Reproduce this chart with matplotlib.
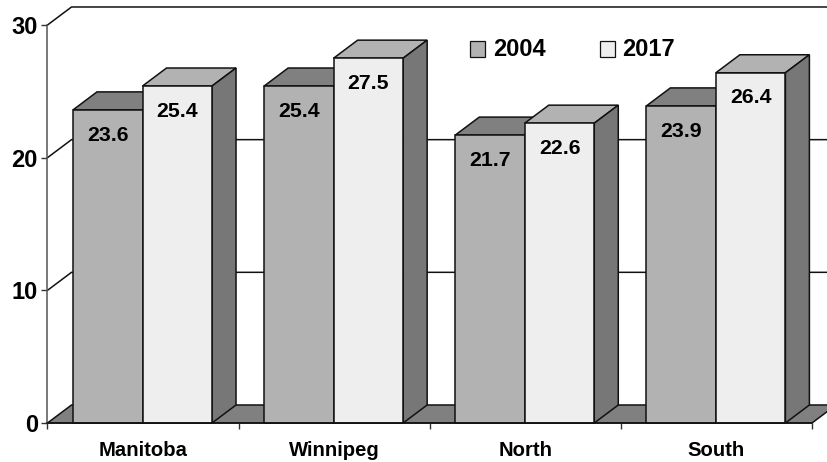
import matplotlib
matplotlib.use('Agg')
import matplotlib.pyplot as plt
from matplotlib.patches import Polygon, Rectangle

categories = ['Manitoba', 'Winnipeg', 'North', 'South']
series_names = ['2004', '2017']
values_2004 = [23.6, 25.4, 21.7, 23.9]
values_2017 = [25.4, 27.5, 22.6, 26.4]
y_ticks = [0, 10, 20, 30]

W, H = 828, 462
# depth of the fake 3d box, in axis units
dx = 24 / 191.1
dy = 18 / 13.26
bar_w = 69.5 / 191.1
gap = 25.5 / 191.1

front_cols = ['#b2b2b2', '#eeeeee']
top_cols = ['#808080', '#b2b2b2']
side_cols = ['#666666', '#777777']
edge = '#111111'
lw = 1.1

plt.rcParams['font.family'] = ['Liberation Sans', 'DejaVu Sans']
plt.rcParams['font.weight'] = 'bold'

fig = plt.figure(figsize=(W / 100, H / 100), dpi=100)
ax = fig.add_axes([47.5 / W, 1 - 423 / H, (812 - 47.5) / W, (423 - 25) / H])
ax.set_xlim(0, 4)
ax.set_ylim(0, 30)

# back wall
ax.plot([0, dx, 4 + dx], [30, 30 + dy, 30 + dy], color=edge, lw=lw, clip_on=False, zorder=1)
for v in y_ticks[1:3]:
    ax.plot([0, dx, 4 + dx], [v, v + dy, v + dy], color=edge, lw=lw, clip_on=False, zorder=1)

# floor
ax.add_patch(Polygon([(0, 0), (dx, dy), (4 + dx, dy), (4, 0)], fc='#808080', ec=edge, lw=lw,
                     clip_on=False, zorder=1.5))

z = 2
for i in range(len(categories)):
    for s, vals in enumerate([values_2004, values_2017]):
        left = i + gap + s * bar_w
        v = vals[i]
        ax.add_patch(Polygon([(left, v), (left + dx, v + dy), (left + bar_w + dx, v + dy), (left + bar_w, v)],
                             fc=top_cols[s], ec=edge, lw=lw, clip_on=False, zorder=z))
        ax.add_patch(Polygon([(left + bar_w, 0), (left + bar_w + dx, dy), (left + bar_w + dx, v + dy), (left + bar_w, v)],
                             fc=side_cols[s], ec=edge, lw=lw, clip_on=False, zorder=z))
        ax.bar(left, v, bar_w, align='edge', color=front_cols[s], edgecolor=edge, lw=lw, zorder=z + 0.5, clip_on=False)
        ax.text(left + bar_w / 2, v - 1.9, '%.1f' % v, ha='center', va='center', fontsize=15.3,
                color='black', zorder=z + 1)
        z += 2

for name in ['top', 'right']:
    ax.spines[name].set_visible(False)
ax.spines['left'].set_color('#555555')
ax.spines['left'].set_linewidth(1.1)
ax.spines['bottom'].set_color(edge)
ax.spines['bottom'].set_linewidth(1.1)
ax.spines['bottom'].set_zorder(50)

ax.set_yticks(y_ticks)
ax.set_yticklabels(y_ticks, fontsize=17)
ax.tick_params(axis='y', length=4, width=1, color='#333333', pad=3)
ax.set_xticks(range(5))
ax.set_xticklabels([])
ax.tick_params(axis='x', which='major', length=4, width=1, color='#333333')
ax.set_xticks([i + 0.5 for i in range(4)], minor=True)
ax.set_xticklabels(categories, minor=True, fontsize=14.6)
ax.tick_params(axis='x', which='minor', length=0, pad=13)

# legend drawn by hand so the swatches sit where they do in the source
for s, (px, tx) in enumerate([(470.5, 493), (600, 622)]):
    fig.add_artist(Rectangle((px / W, 1 - 57 / H), 15 / W, 16 / H, transform=fig.transFigure,
                             fc=front_cols[s], ec=edge, lw=0.9))
    fig.text(tx / W, 1 - 49 / H, series_names[s], fontsize=17, ha='left', va='center')

fig.savefig('out.png', dpi=100)
